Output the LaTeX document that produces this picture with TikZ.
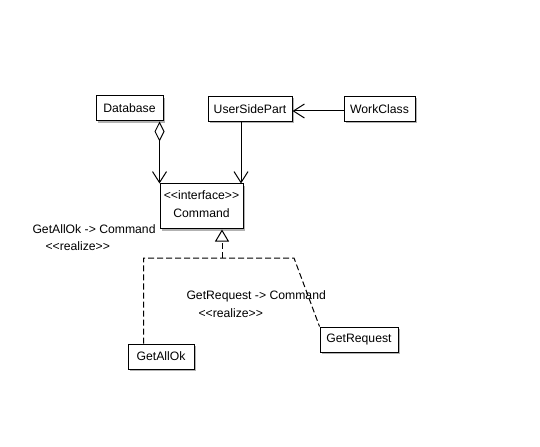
\documentclass[tikz,border=0pt]{standalone}
\usepackage{fontspec}
\setmainfont{Liberation Sans}
\usetikzlibrary{arrows.meta,shadows}
\begin{document}
\begin{tikzpicture}[x=1bp,y=-1bp,line width=1bp,
  every node/.style={font=\fontsize{12.2bp}{14bp}\selectfont},
  cls/.style={draw, fill=white, inner sep=0pt, minimum height=25bp, minimum width=#1,
    general shadow={fill=black!30, shadow xshift=2bp, shadow yshift=-2bp}},
  lbl/.style={anchor=west, inner sep=0pt},
  assoc/.style={-{Straight Barb[length=11bp,width=14bp]}},
  real/.style={dash pattern=on 6bp off 3bp},
]
\useasboundingbox (0,0) rectangle (540,447);
\node[cls=67bp] (db) at (129.5,108.5) {Database};
\node[cls=84bp] (usp) at (250,109) {UserSidePart};
\node[cls=71bp] (wc) at (379.5,109) {WorkClass};
\node[cls=83bp, minimum height=45bp, align=center] (cmd) at (201.5,206.5)
  {{<}{<}interface{>}{>}\\[4bp]Command\rule[-5bp]{0pt}{0pt}};
\node[cls=66bp] (gao) at (161,356.5) {GetAllOk};
\node[cls=78bp] (gr) at (359,339.5) {GetRequest};

\coordinate (j) at (222,258);
\coordinate (k) at (294,258);

% associations
\draw[{Diamond[open,length=20bp,width=10bp]}-{Straight Barb[length=11bp,width=14bp]}]
  (db.south east -| cmd.north west) -- (cmd.north west);
\draw[assoc] ([xshift=-2.5bp]cmd.north east |- usp.south) -- ([xshift=-2.5bp]cmd.north east);
\draw[assoc] ([yshift=-2bp]wc.west) -- ([yshift=-2bp]wc.west -| usp.east);

% realizations
\draw[real] ([xshift=16bp]gao.north west) |- (j) -- (k) -- (gr.north west);
\draw[real, -{Triangle[open,length=12bp,width=14bp]}] (j) -- (j |- cmd.south);

% labels
\node[lbl] (l1) at (32,229) {GetAllOk -{>} Command};
\node[lbl] (l2) at (45,246) {{<}{<}realize{>}{>}};
\node[lbl] (l3) at (186,296) {GetRequest -{>} Command};
\node[lbl] (l4) at (198,313) {{<}{<}realize{>}{>}};
\end{tikzpicture}
\end{document}
